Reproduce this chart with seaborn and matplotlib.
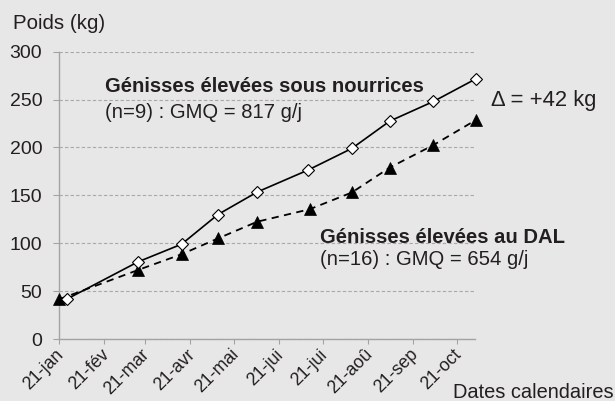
import matplotlib
matplotlib.use("Agg")
import matplotlib.pyplot as plt
import matplotlib.dates as mdates
import matplotlib.transforms as mtrans
import seaborn as sns
import pandas as pd

# ---- data ----
nourrices_dates = ["2013-01-26", "2013-03-16", "2013-04-15", "2013-05-10", "2013-06-06",
                   "2013-07-11", "2013-08-10", "2013-09-05", "2013-10-05", "2013-11-03"]
nourrices_poids = [41.5, 80.5, 99, 130, 153.5, 176.5, 199, 227.5, 248, 271.5]
dal_dates = ["2013-01-21", "2013-03-16", "2013-04-15", "2013-05-10", "2013-06-06",
             "2013-07-12", "2013-08-10", "2013-09-05", "2013-10-05", "2013-11-03"]
dal_poids = [41.5, 72, 88.5, 105, 122.5, 135.5, 153, 179, 202.5, 228.5]
tick_dates = ["2013-01-21", "2013-02-21", "2013-03-21", "2013-04-21", "2013-05-21",
              "2013-06-21", "2013-07-21", "2013-08-21", "2013-09-21", "2013-10-21"]
tick_labels = ["21-jan", "21-fév", "21-mar", "21-avr", "21-mai",
               "21-jui", "21-jui", "21-aoû", "21-sep", "21-oct"]
y_ticks = [0, 50, 100, 150, 200, 250, 300]

df_n = pd.DataFrame({"date": pd.to_datetime(nourrices_dates), "poids": nourrices_poids})
df_d = pd.DataFrame({"date": pd.to_datetime(dal_dates), "poids": dal_poids})

BG = "#e7e7e8"
TXT = "#231f20"
GRID = "#a8a8a8"
FONT = "Liberation Sans"
plt.rcParams["font.family"] = [FONT, "DejaVu Sans"]
FS = 14.6

W, H = 615, 401
fig = plt.figure(figsize=(W / 100, H / 100), dpi=100, facecolor=BG)
L, R, T, B = 59.3, 475.0, 51.7, 339.0
ax = fig.add_axes([L / W, 1 - B / H, (R - L) / W, (B - T) / H])
ax.set_facecolor(BG)

sns.lineplot(data=df_d, x="date", y="poids", ax=ax, sort=False, errorbar=None,
             color="black", linewidth=1.3, linestyle=(0, (4, 3)),
             marker="^", markersize=8.5, markerfacecolor="black",
             markeredgecolor="black", markeredgewidth=0.5, clip_on=False, zorder=3)
sns.lineplot(data=df_n, x="date", y="poids", ax=ax, sort=False, errorbar=None,
             color="black", linewidth=1.2, linestyle="-",
             marker="D", markersize=6, markerfacecolor="white",
             markeredgecolor="black", markeredgewidth=0.8, clip_on=False, zorder=4)

ax.set_xlim(mdates.date2num(pd.Timestamp("2013-01-21")),
            mdates.date2num(pd.Timestamp("2013-11-02 14:00")))
ax.set_ylim(0, 300)
ax.set_yticks(y_ticks)
ax.set_yticklabels([str(v) for v in y_ticks])
ax.set_xticks(mdates.date2num(pd.to_datetime(tick_dates)))
ax.set_xticklabels(tick_labels)

ax.yaxis.grid(True, linestyle=(0, (3, 2)), color=GRID, linewidth=0.8)
ax.xaxis.grid(False)
ax.set_axisbelow(True)
for s in ["top", "right"]:
    ax.spines[s].set_visible(False)
for s in ["left", "bottom"]:
    ax.spines[s].set_color("#a3a3a3")
    ax.spines[s].set_linewidth(1.0)

ax.tick_params(axis="y", length=4.3, width=0.8, color="#a3a3a3", pad=8,
               labelsize=14, labelcolor=TXT)
ax.tick_params(axis="x", length=3.5, width=0.8, color="#a3a3a3", pad=4,
               labelsize=12.8, labelcolor=TXT)
for lab in ax.get_xticklabels():
    lab.set_rotation(45)
    lab.set_ha("right")
    lab.set_va("center")
    lab.set_rotation_mode("anchor")
    lab.set_transform(lab.get_transform() + mtrans.ScaledTranslation(2 / 100, -2.5 / 100, fig.dpi_scale_trans))

ax.set_xlabel("")
ax.set_ylabel("")
ax.text(-0.1114, 1.078, "Poids (kg)", transform=ax.transAxes, ha="left", va="baseline",
        fontsize=14.8, color=TXT)
ax.text(0.9464, -0.2043, "Dates calendaires", transform=ax.transAxes, ha="left",
        va="baseline", fontsize=14.4, color=TXT, clip_on=False)

ax.text(0.110, 0.8587, "Génisses élevées sous nourrices", transform=ax.transAxes,
        ha="left", va="baseline", fontsize=FS, fontweight="bold", color=TXT)
ax.text(0.110, 0.768, "(n=9) : GMQ = 817 g/j", transform=ax.transAxes,
        ha="left", va="baseline", fontsize=FS, color=TXT)
ax.text(0.627, 0.333, "Génisses élevées au DAL", transform=ax.transAxes,
        ha="left", va="baseline", fontsize=FS, fontweight="bold", color=TXT)
ax.text(0.627, 0.2576, "(n=16) : GMQ = 654 g/j", transform=ax.transAxes,
        ha="left", va="baseline", fontsize=FS, color=TXT)
ax.text(1.0378, 0.811, "Δ = +42 kg", transform=ax.transAxes,
        ha="left", va="baseline", fontsize=15.8, color=TXT, clip_on=False)

fig.savefig("out.png", dpi=100, facecolor=BG)
